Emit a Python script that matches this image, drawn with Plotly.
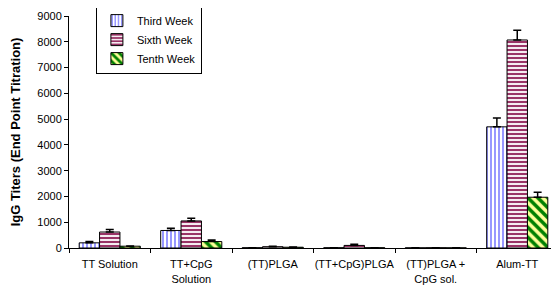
import plotly.graph_objects as go

categories = ["TT Solution", "TT+CpG<br>Solution", "(TT)PLGA", "(TT+CpG)PLGA",
              "(TT)PLGA +<br>CpG sol.", "Alum-TT"]
series_names = ["Third Week", "Sixth Week", "Tenth Week"]
third_week = [200, 680, 10, 10, 5, 4700]
sixth_week = [620, 1050, 50, 100, 10, 8070]
tenth_week = [70, 250, 30, 10, 5, 1970]
third_err = [50, 90, 0, 0, 0, 340]
sixth_err = [100, 100, 20, 50, 0, 380]
tenth_err = [10, 60, 10, 0, 0, 190]
y_ticks = [0, 1000, 2000, 3000, 4000, 5000, 6000, 7000, 8000, 9000]

styles = [
    dict(shape="|", fg="#8C8CFF", bg="#FFFFFF", size=4, solidity=0.45),
    dict(shape="-", fg="#993366", bg="#FFFFFF", size=4, solidity=0.55),
    dict(shape="\\", fg="#008000", bg="#FFFF99", size=7, solidity=0.5),
]

fig = go.Figure()
for name, vals, errs, st in zip(series_names, [third_week, sixth_week, tenth_week],
                                [third_err, sixth_err, tenth_err], styles):
    fig.add_trace(go.Bar(
        name=name, x=categories, y=vals,
        marker=dict(color=st["fg"], line=dict(color="#000000", width=1),
                    pattern=dict(shape=st["shape"], fgcolor=st["fg"], bgcolor=st["bg"],
                                 size=st["size"], solidity=st["solidity"],
                                 fillmode="replace")),
        error_y=dict(type="data", symmetric=False, array=errs,
                     arrayminus=[0] * len(errs), color="#000000",
                     thickness=1.5, width=4),
    ))

# page body has an 8px default margin; the figure is sized to compensate
fig.update_layout(
    width=551, height=278,
    margin=dict(l=61, r=1, t=8, b=38, autoexpand=False),
    paper_bgcolor="white", plot_bgcolor="white",
    barmode="group", bargap=0.25, bargroupgap=0,
    font=dict(family="Liberation Sans, Arial, sans-serif", size=11, color="#000000"),
    showlegend=True,
    legend=dict(x=0.055, y=1.047, xanchor="left", yanchor="top",
                bordercolor="#000000", borderwidth=1, bgcolor="white",
                font=dict(size=11), itemwidth=30, tracegroupgap=0),
    xaxis=dict(showline=True, linecolor="#000000", linewidth=1, automargin=False,
               ticks="outside", tickson="boundaries", ticklen=4, tickangle=0,
               ticklabelstandoff=6,
               tickcolor="#000000", showgrid=False, tickfont=dict(size=11)),
    yaxis=dict(range=[0, 9000], tickvals=y_ticks, showline=True, linecolor="#000000",
               linewidth=1, ticks="outside", ticklen=4, tickcolor="#000000",
               showgrid=False, zeroline=False, tickfont=dict(size=11), automargin=False,
               title=dict(text="<b>IgG Titers (End Point Titration)</b>",
                          font=dict(size=13), standoff=20)),
)

fig.write_html("out.html")
